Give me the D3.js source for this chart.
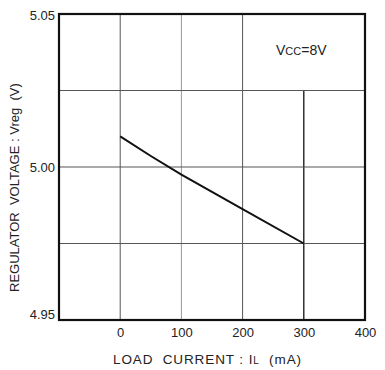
<!DOCTYPE html>
<html><head><meta charset="utf-8">
<script src="https://cdn.jsdelivr.net/npm/d3@7"></script>
<style>body{margin:0;background:#fff}text{font-family:"Liberation Sans",Arial,sans-serif;fill:#222;white-space:pre}</style>
</head><body><svg id="c" width="385" height="370"></svg>
<script>
const loadCurrent = [0, 50, 100, 200, 300];
const regVoltage = [5.010, 5.0036, 4.9975, 4.9862, 4.975];
const xTicks = [0, 100, 200, 300, 400];
const yTicks = [4.95, 5.00, 5.05];
const yGrid = [4.975, 5.00, 5.025];

const svg = d3.select("#c");
const L = 59, R = 365, T = 14, B = 320;
const x = d3.scaleLinear().domain([-100, 400]).range([L, R]);
const y = d3.scaleLinear().domain([4.95, 5.05]).range([B, T]);

// vertical grid
const vg = svg.append("g");
[0, 100, 200].forEach(v => {
  vg.append("line").attr("x1", x(v)).attr("x2", x(v)).attr("y1", T).attr("y2", B)
    .attr("stroke", v === 100 ? "#999" : "#555").attr("stroke-width", 1);
});
vg.append("line").attr("x1", x(300)).attr("x2", x(300)).attr("y1", y(5.025)).attr("y2", B)
  .attr("stroke", "#111").attr("stroke-width", 1.3);
// horizontal grid
yGrid.forEach(v => {
  vg.append("line").attr("x1", L).attr("x2", R).attr("y1", y(v)).attr("y2", y(v))
    .attr("stroke", "#555").attr("stroke-width", 1.2);
});

// frame
svg.append("rect").attr("x", L).attr("y", T).attr("width", R - L).attr("height", B - T)
  .attr("fill", "none").attr("stroke", "#111").attr("stroke-width", 2.2);

// axes labels
const xa = svg.append("g").attr("transform", `translate(0,${B})`)
  .call(d3.axisBottom(x).tickValues(xTicks).tickSize(0).tickPadding(8).tickFormat(d3.format("d")));
xa.select(".domain").remove();
xa.selectAll("text").style("font-size", "13px").attr("fill", "#222");
const ya = svg.append("g").attr("transform", `translate(${L},0)`)
  .call(d3.axisLeft(y).tickValues(yTicks).tickSize(0).tickPadding(4).tickFormat(d3.format(".2f")));
ya.select(".domain").remove();
ya.selectAll("text").style("font-size", "13px").attr("fill", "#222")
  .attr("dy", d => d === 4.95 ? "-0.1em" : (d === 5.05 ? "0.45em" : "0.32em"));

// data line
const line = d3.line().x((d, i) => x(loadCurrent[i])).y(d => y(d));
svg.append("path").datum(regVoltage).attr("d", line)
  .attr("fill", "none").attr("stroke", "#111").attr("stroke-width", 2);

// annotation
const ann = svg.append("text").attr("x", 276).attr("y", 55).style("font-size", "14px");
ann.append("tspan").text("V");
ann.append("tspan").text("CC").style("font-size", "11px");
ann.append("tspan").text("=8V");

// x title
const xt = svg.append("text").attr("x", 113).attr("y", 364).style("font-size", "13.5px").style("letter-spacing", "0.9px");
xt.append("tspan").text("LOAD  CURRENT : I");
xt.append("tspan").text("L").style("font-size", "10px");
xt.append("tspan").text("  (mA)");

// y title
const yt = svg.append("text").attr("transform", "translate(19,292) rotate(-90)").style("font-size", "13px");
yt.append("tspan").text("REGULATOR  VOLTAGE : Vreg  (V)");
</script></body></html>
